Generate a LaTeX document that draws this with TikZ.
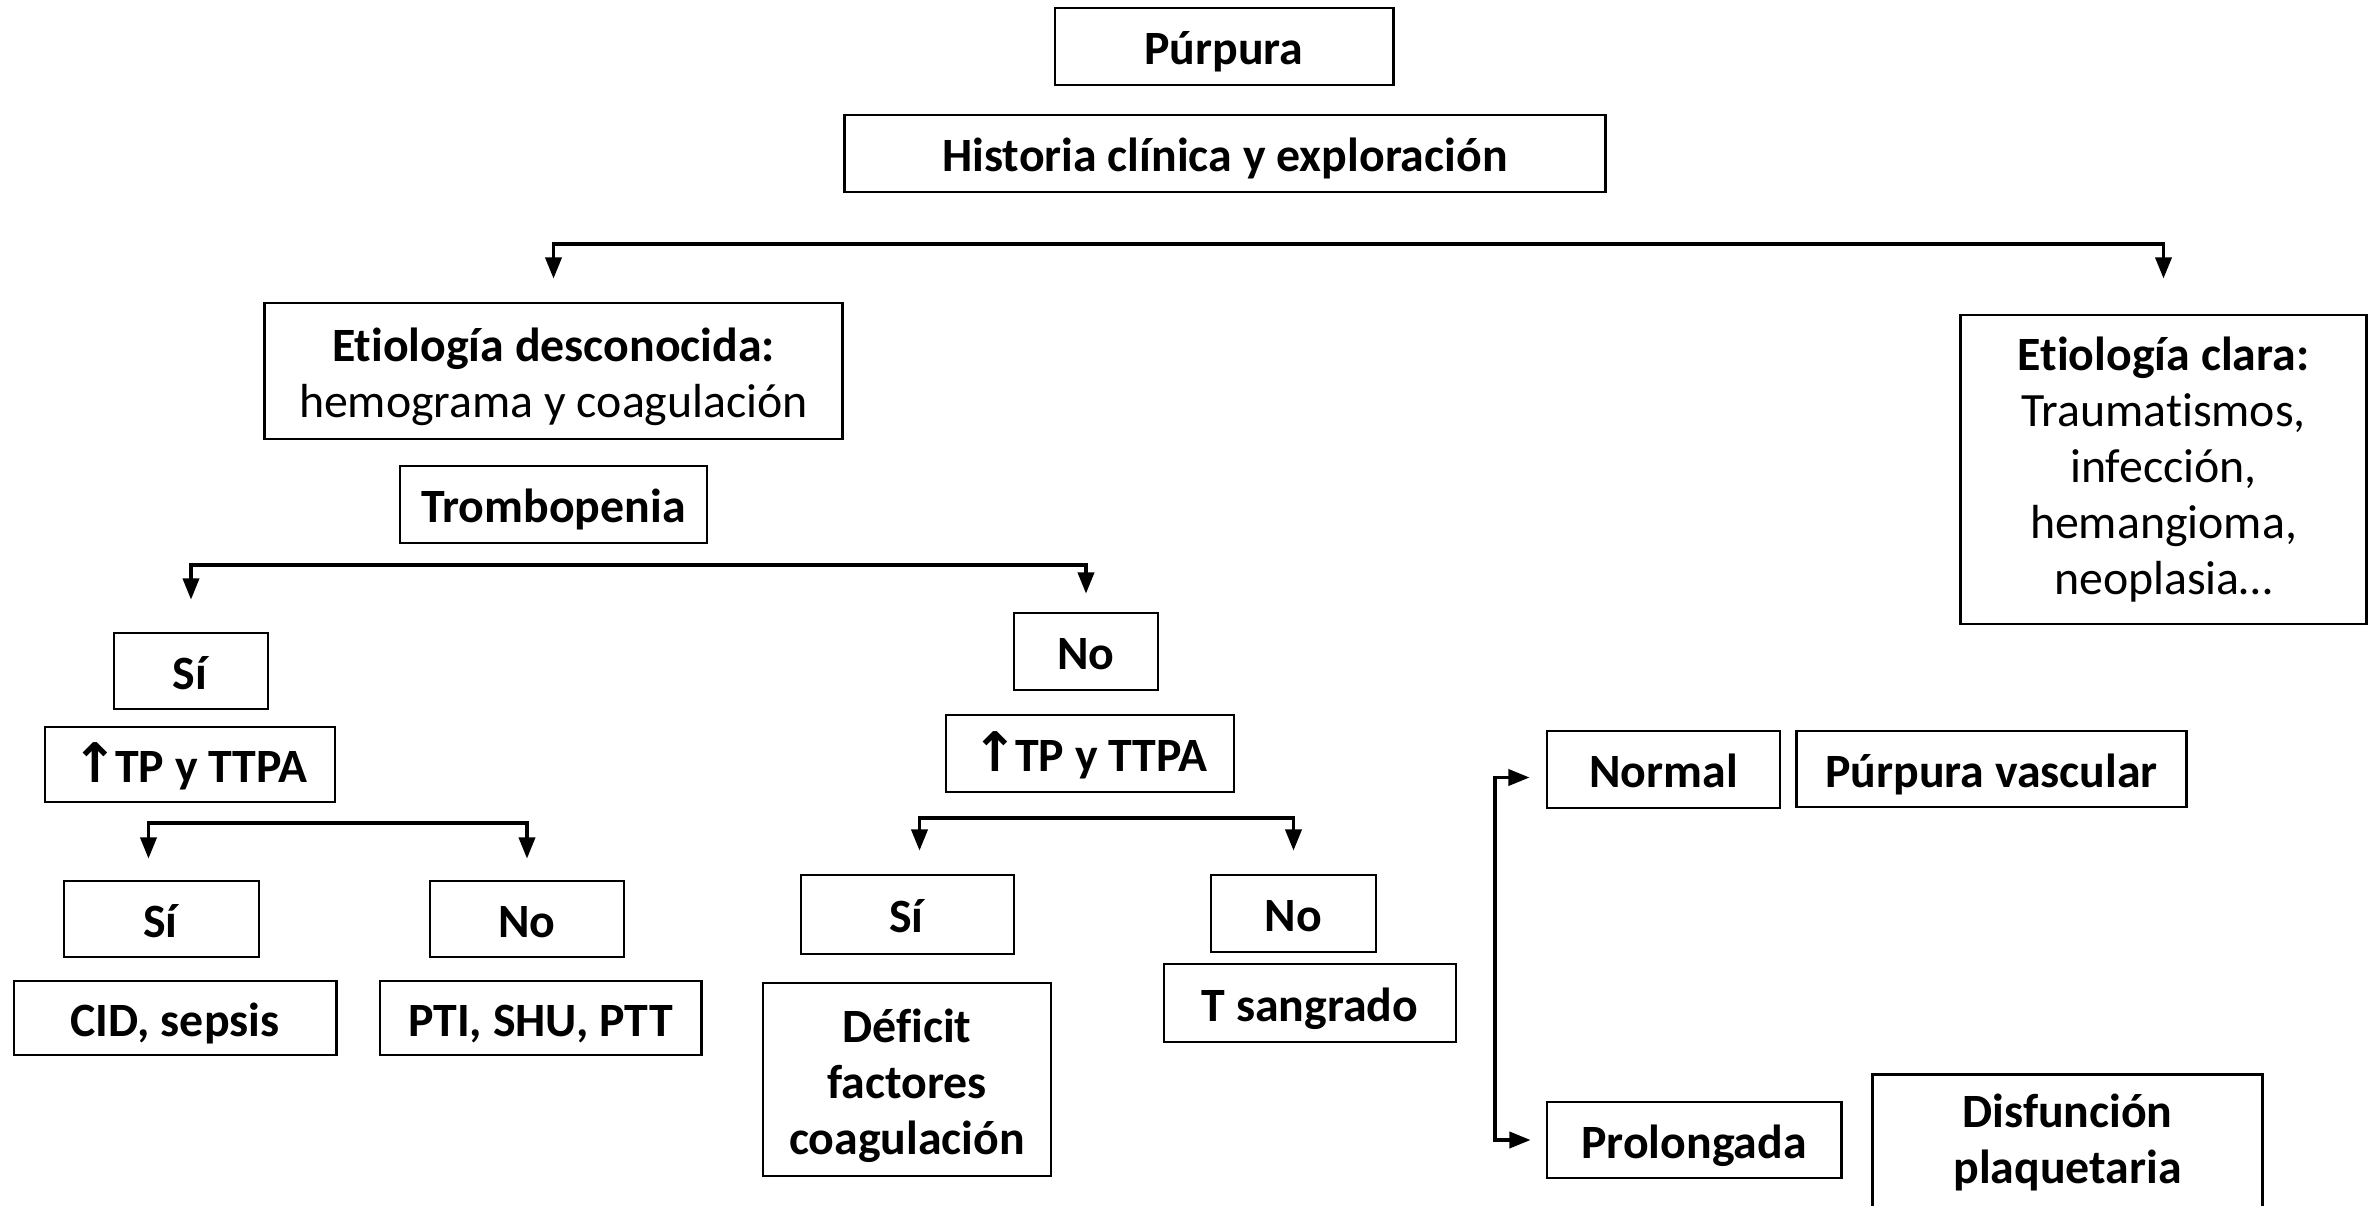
\documentclass[tikz,border=0pt]{standalone}
\usepackage{fontspec}
\setmainfont{Carlito}[Ligatures=NoCommon]
\newfontfamily\arrowfont{DejaVu Sans}
\usetikzlibrary{arrows.meta}
\newcommand{\up}{{\arrowfont\bfseries\fontsize{15.5}{15.5}\selectfont ↑}\kern-0.06em}
\begin{document}
\begin{tikzpicture}[x=0.01cm, y=-0.01cm,
    box/.style={draw, line width=0.8pt, inner sep=0pt, align=center,
        font=\fontsize{13.6}{15.9}\selectfont},
    one/.style={text height=13.9pt, text depth=3.4pt},
    link/.style={line width=0.9pt,
        {Triangle[length=6pt,width=4.6pt]}-{Triangle[length=6pt,width=4.6pt]}}]
    \useasboundingbox (0,0) rectangle (2374,1206);
    \clip (0,0) rectangle (2374,1206);

    \node[box, one, minimum width=3.38cm, minimum height=0.77cm] (purp) at (1224,46.5) {\textbf{Púrpura}};
    \node[box, one, minimum width=7.60cm, minimum height=0.77cm] (hist) at (1225,153.5) {\textbf{Historia clínica y exploración}};
    \node[box, minimum width=5.77cm, minimum height=1.36cm] (etd) at (553.5,371) {\rule{0pt}{13pt}\textbf{Etiología desconocida:}\\hemograma y coagulación};
    \node[box, one, minimum width=3.07cm, minimum height=0.77cm] (trom) at (553.5,504.5) {\textbf{Trombopenia}};
    \node[box, minimum width=4.05cm, minimum height=3.09cm] (etc) at (2163.5,469.5) {\textbf{Etiología clara:}\\Traumatismos,\\infección,\\hemangioma,\\neoplasia…};

    \node[box, one, minimum width=1.54cm, minimum height=0.76cm] (sia) at (191,671) {\textbf{Sí}};
    \node[box, one, minimum width=2.90cm, minimum height=0.75cm] (tpa) at (190,764.5) {\textbf{\up TP y TTPA}};
    \node[box, one, minimum width=1.44cm, minimum height=0.77cm] (noa) at (1086,651.5) {\textbf{No}};
    \node[box, one, minimum width=2.88cm, minimum height=0.77cm] (tpb) at (1090,753.5) {\textbf{\up TP y TTPA}};

    \node[box, one, minimum width=1.95cm, minimum height=0.76cm] (sib) at (161.5,919) {\textbf{Sí}};
    \node[box, one, minimum width=1.94cm, minimum height=0.76cm] (nob) at (527,919) {\textbf{No}};
    \node[box, one, minimum width=3.22cm, minimum height=0.74cm] (cid) at (175,1018) {\textbf{CID, sepsis}};
    \node[box, one, minimum width=3.21cm, minimum height=0.74cm] (pti) at (540.5,1018) {\textbf{PTI, SHU, PTT}};

    \node[box, one, minimum width=2.13cm, minimum height=0.79cm] (sic) at (907.5,914.5) {\textbf{Sí}};
    \node[box, one, minimum width=1.65cm, minimum height=0.77cm] (noc) at (1293.5,913.5) {\textbf{No}};
    \node[box, minimum width=2.88cm, minimum height=1.93cm] (def) at (907,1079.5) {\rule{0pt}{13pt}\textbf{Déficit}\\\textbf{factores}\\\textbf{coagulación}};
    \node[box, one, minimum width=2.92cm, minimum height=0.78cm] (tsan) at (1310,1003) {\textbf{T sangrado}};

    \node[box, one, minimum width=2.33cm, minimum height=0.77cm] (norm) at (1663.5,769.5) {\textbf{Normal}};
    \node[box, one, minimum width=3.89cm, minimum height=0.76cm] (vasc) at (1991.5,769) {\textbf{Púrpura vascular}};
    \node[box, one, minimum width=2.94cm, minimum height=0.76cm] (prol) at (1694,1140) {\textbf{Prolongada}};
    \node[box, minimum width=3.89cm, minimum height=1.80cm, anchor=north] (disf) at (2067.5,1073) {};
    \node[box, draw=none] at ([yshift=-0.69cm]disf.north) {\textbf{Disfunción}\\\textbf{plaquetaria}};

    \coordinate (ya) at (0,244);
    \coordinate (yb) at (0,565);
    \coordinate (yc) at (0,823);
    \coordinate (yd) at (0,818);
    \coordinate (xe) at (1495,0);
    \coordinate (nw) at ([xshift=-0.16cm,yshift=-0.08cm]norm.west);

    \draw[link] ([yshift=0.23cm]etd.north) -- (etd.north |- ya) -- (etc.north |- ya) -- ([yshift=0.35cm]etc.north);
    \draw[link] ([yshift=0.32cm]sia.north) -- (sia.north |- yb) -- (noa.north |- yb) -- ([yshift=0.18cm]noa.north);
    \draw[link] ([xshift=-0.13cm,yshift=0.21cm]sib.north) -- ([xshift=-0.13cm]sib.north |- yc) -- (nob.north |- yc) -- ([yshift=0.21cm]nob.north);
    \draw[link] ([xshift=0.12cm,yshift=0.23cm]sic.north) -- ([xshift=0.12cm]sic.north |- yd) -- (noc.north |- yd) -- ([yshift=0.23cm]noc.north);
    \draw[link] (nw) -- (xe |- nw) -- (xe |- prol.west) -- ([xshift=-0.15cm]prol.west);

\end{tikzpicture}
\end{document}
